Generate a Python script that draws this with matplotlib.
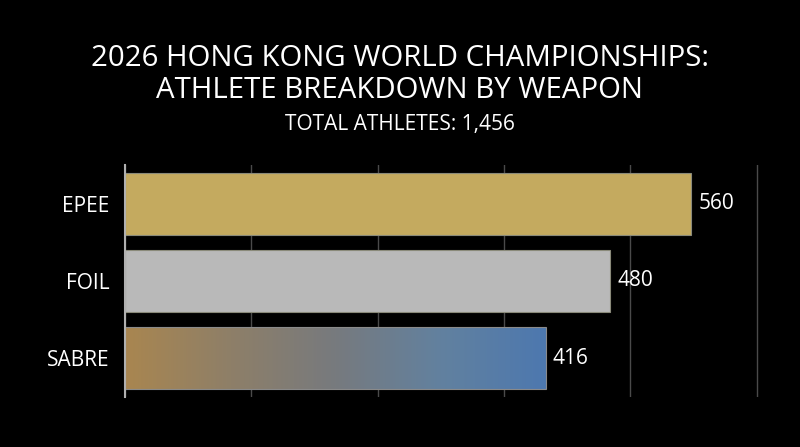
import matplotlib
matplotlib.use("Agg")
import matplotlib.pyplot as plt
import numpy as np
from matplotlib.colors import LinearSegmentedColormap

categories = ["EPEE", "FOIL", "SABRE"]
values = [560, 480, 416]
total_label = "TOTAL ATHLETES: 1,456"
title_lines = "2026 HONG KONG WORLD CHAMPIONSHIPS:\nATHLETE BREAKDOWN BY WEAPON"
grid_ticks = [0, 125, 250, 375, 500, 625]

FONT = "Open Sans"
plt.rcParams['font.family'] = [FONT, 'DejaVu Sans']

fig = plt.figure(figsize=(8, 4.47), dpi=100, facecolor="black")
ax = fig.add_axes([0.15625, 0.1119, 0.965 - 0.15625, 0.6309 - 0.1119])
ax.set_facecolor("black")

ypos = np.arange(len(categories))
bar_h = 0.8
solid_colors = ["#C4AA5F", "#B9B9B9", None]

for i, (cat, v) in enumerate(zip(categories, values)):
    col = solid_colors[i]
    if col is not None:
        ax.barh(i, v, height=bar_h, color=col, edgecolor="#8a8a7a", linewidth=0.8, zorder=3)
    else:
        cmap = LinearSegmentedColormap.from_list(
            "sabre", ["#A98650", "#8E7F68", "#777A7E", "#62819F", "#4D78AF"])
        grad = np.linspace(0, 1, 256).reshape(1, -1)
        im = ax.imshow(grad, cmap=cmap, aspect="auto",
                       extent=[0, v, i + bar_h / 2, i - bar_h / 2], zorder=3)
        rect = ax.barh(i, v, height=bar_h, color="none", edgecolor="#8a8a8a",
                       linewidth=0.8, zorder=4)[0]
        im.set_clip_path(rect)
    ax.text(v + 7, i, f"{v}", color="white", fontsize=15, va="center", ha="left",
            zorder=5)

ax.set_xlim(0, 640)
ax.set_ylim(len(categories) - 0.5, -0.5)
ax.set_yticks(ypos)
ax.set_yticklabels(categories, color="white", fontsize=15)
ax.set_xticks(grid_ticks)
ax.set_xticklabels([])
ax.tick_params(axis="both", length=0, pad=11)
ax.grid(axis="x", color="#4a4a4a", linewidth=1, zorder=0)
for s in ["top", "right", "bottom"]:
    ax.spines[s].set_visible(False)
ax.spines["left"].set_color("#b0b0b0")
ax.spines["left"].set_linewidth(1.5)
ax.spines["left"].set_zorder(6)

fig.text(0.5, 1 - 74.5 / 447, title_lines, color="white", fontsize=21.2,
         ha="center", va="center", linespacing=1.1)
fig.text(0.5, 1 - 124.5 / 447, total_label, color="white", fontsize=15,
         ha="center", va="center")

fig.savefig("out.png", dpi=100, facecolor="black")
